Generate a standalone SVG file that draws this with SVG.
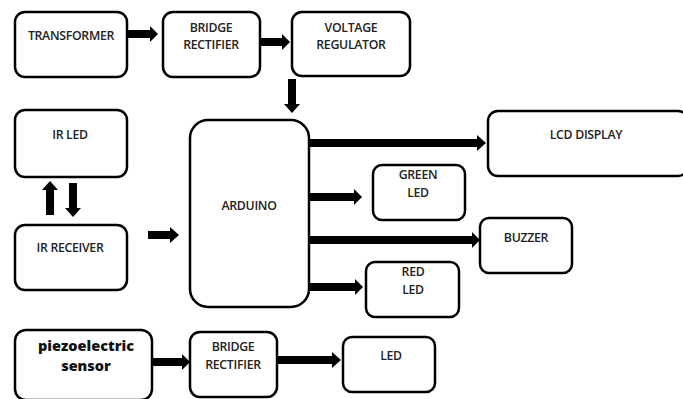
<svg xmlns="http://www.w3.org/2000/svg" width="683" height="399" viewBox="0 0 683 399">
<style>
.box{fill:#fff;stroke:#000;stroke-width:2.5}
.t{font-family:"Open Sans","Liberation Sans",sans-serif;font-weight:600;font-size:12.3px;fill:#222;text-anchor:middle;letter-spacing:-0.3px}
.b{font-family:"Open Sans","Liberation Sans",sans-serif;font-weight:800;font-size:14.5px;fill:#111;text-anchor:middle;letter-spacing:0px}
.a{fill:#000}
</style>
<rect width="683" height="399" fill="#fff"/>
<g id="connectors">
<polygon class="a" points="127,30 150,30 150,26 158,34 150,42 150,38 127,38"/>
<polygon class="a" points="260,38 282,38 282,34 290,42 282,50 282,46 260,46"/>
<polygon class="a" points="288,79 296,79 296,104 300,104 292,113 284,104 288,104"/>
<polygon class="a" points="46,215 54,215 54,190 58,190 50,181 42,190 46,190"/>
<polygon class="a" points="69,183 77,183 77,208 81,208 73,217 65,208 69,208"/>
<polygon class="a" points="148,231 170,231 170,227 179,235 170,243 170,239 148,239"/>
<polygon class="a" points="309,139 477,139 477,135 486,143 477,151 477,147 309,147"/>
<polygon class="a" points="309,193 354,193 354,189 362,197 354,205 354,201 309,201"/>
<polygon class="a" points="309,236 472,236 472,232 480,240 472,248 472,244 309,244"/>
<polygon class="a" points="309,283 355,283 355,279 363,287 355,295 355,291 309,291"/>
<polygon class="a" points="152,358 182,358 182,354 190,362 182,370 182,366 152,366"/>
<polygon class="a" points="278,356 332,356 332,352 341,360 332,368 332,364 278,364"/>
</g>
<g id="transformer"><rect class="box" x="15" y="12" width="112" height="65" rx="10"/><text class="t" x="71" y="40">TRANSFORMER</text></g>
<g id="bridge1"><rect class="box" x="163" y="12" width="97" height="65" rx="10"/><text class="t" x="211" y="32">BRIDGE</text><text class="t" x="211" y="49">RECTIFIER</text></g>
<g id="regulator"><rect class="box" x="292" y="12" width="118" height="64" rx="10"/><text class="t" x="351" y="32">VOLTAGE</text><text class="t" x="351" y="49">REGULATOR</text></g>
<g id="irled"><rect class="box" x="15" y="110" width="112" height="67" rx="10"/><text class="t" x="70" y="139">IR LED</text></g>
<g id="irreceiver"><rect class="box" x="15" y="225" width="112" height="65" rx="10"/><text class="t" x="70" y="252">IR RECEIVER</text></g>
<g id="arduino"><rect class="box" x="190" y="120" width="119" height="187" rx="18"/><text class="t" x="249" y="210">ARDUINO</text></g>
<g id="lcd"><rect class="box" x="488" y="111" width="200" height="65" rx="10"/><text class="t" x="586" y="139">LCD DISPLAY</text></g>
<g id="greenled"><rect class="box" x="373" y="165" width="92" height="55" rx="9"/><text class="t" x="418" y="179">GREEN</text><text class="t" x="418" y="197">LED</text></g>
<g id="buzzer"><rect class="box" x="480" y="218" width="92" height="55" rx="9"/><text class="t" x="526" y="242">BUZZER</text></g>
<g id="redled"><rect class="box" x="366" y="262" width="93" height="55" rx="9"/><text class="t" x="413" y="276">RED</text><text class="t" x="413" y="294">LED</text></g>
<g id="piezo"><rect class="box" x="15" y="330" width="137" height="70" rx="11"/><text class="b" x="86" y="351">piezoelectric</text><text class="b" x="86" y="371">sensor</text></g>
<g id="bridge2"><rect class="box" x="190" y="332" width="87" height="65" rx="10"/><text class="t" x="233" y="351">BRIDGE</text><text class="t" x="233" y="369">RECTIFIER</text></g>
<g id="led"><rect class="box" x="343" y="337" width="92" height="55" rx="9"/><text class="t" x="391" y="360">LED</text></g>
</svg>
